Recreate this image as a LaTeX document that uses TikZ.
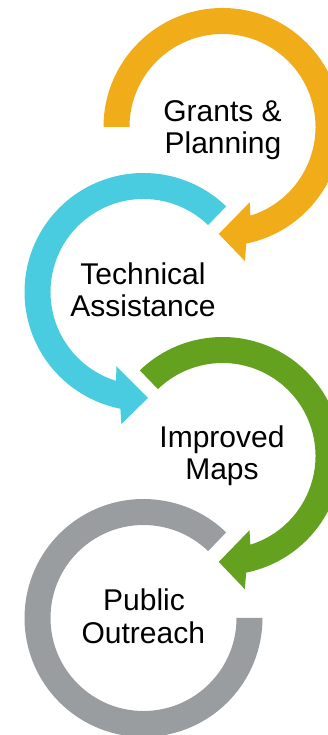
\documentclass[tikz,border=0pt]{standalone}
\usepackage{fontspec}
\setmainfont{Liberation Sans}
\usetikzlibrary{calc}
\definecolor{ylw}{RGB}{240,173,25}
\definecolor{blu}{RGB}{73,204,223}
\definecolor{grn}{RGB}{99,161,31}
\definecolor{gry}{RGB}{154,157,159}
\tikzset{
  lbl/.style={anchor=base, font=\fontsize{30}{32}\selectfont, inner sep=0pt, text=black},
}
\begin{document}
\begin{tikzpicture}[x=1pt,y=1pt]
\useasboundingbox (0,0) rectangle (328,735);
\clip (0,0) rectangle (328,735);
\coordinate (Yc) at (222.5,608);
\coordinate (Bc) at (143.5,443);
\coordinate (Gc) at (222.5,279);
\coordinate (Kc) at (143.5,117);
% yellow: Grants & Planning
\fill[ylw] ($(Yc)+(180:119)$) arc[start angle=180, end angle=-78.5, radius=119]
  -- ($(Yc)+(-80.5:136)$) -- ($(Yc)+(-92:107)$) -- ($(Yc)+(-70:80)$)
  -- ($(Yc)+(-72.6:93)$) arc[start angle=-72.6, end angle=180, radius=93] -- cycle;
% blue: Technical Assistance
\fill[blu] ($(Bc)+(46:119)$) arc[start angle=46, end angle=258.8, radius=119]
  -- ($(Bc)+(260.5:134)$) -- ($(Bc)+(272.4:106)$) -- ($(Bc)+(250:79)$)
  -- ($(Bc)+(252.8:93)$) arc[start angle=252.8, end angle=46, radius=93] -- cycle;
% green: Improved Maps
\fill[grn] ($(Gc)+(134:119)$) arc[start angle=134, end angle=-78.5, radius=119]
  -- ($(Gc)+(-80.5:135)$) -- ($(Gc)+(-92:106)$) -- ($(Gc)+(-70:79)$)
  -- ($(Gc)+(-72.6:93)$) arc[start angle=-72.6, end angle=134, radius=93] -- cycle;
% gray: Public Outreach
\fill[gry] ($(Kc)+(46:119)$) arc[start angle=46, end angle=360, radius=119]
  -- ($(Kc)+(0:93)$) arc[start angle=360, end angle=46, radius=93] -- cycle;
% labels
\node[lbl] (g1) at (222.5,613) {Grants \&};
\node[lbl] (g2) at (223,581) {Planning};
\node[lbl] (t1) at (143,450) {Technical};
\node[lbl] (t2) at (143,418) {Assistance};
\node[lbl] (i1) at (222,287) {Improved};
\node[lbl] (i2) at (222,255) {Maps};
\node[lbl] (p1) at (144,124) {Public};
\node[lbl] (p2) at (143.3,91) {Outreach};
\end{tikzpicture}
\end{document}
